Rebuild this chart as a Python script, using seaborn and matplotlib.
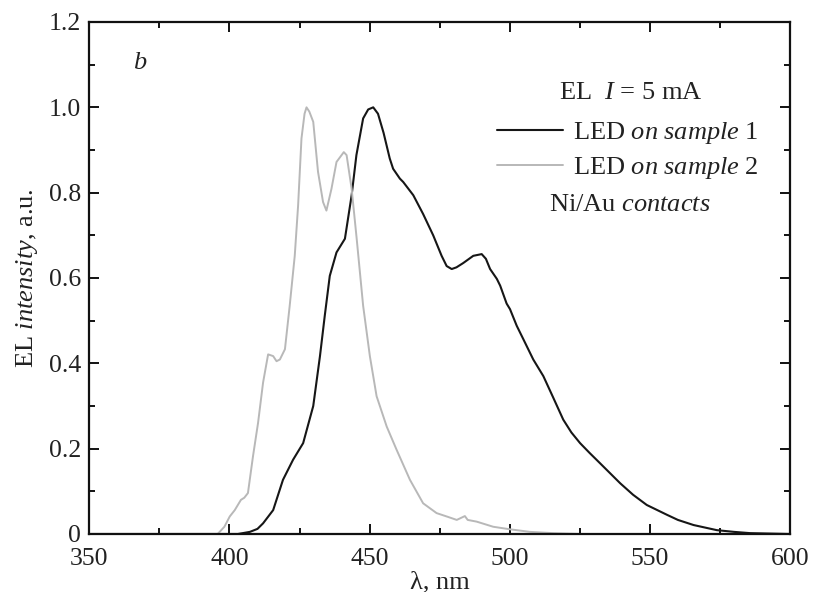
import numpy as np
import pandas as pd
import matplotlib
matplotlib.use("Agg")
import matplotlib.pyplot as plt
import seaborn as sns

# EL spectra

wl_1 = [350, 403, 407.3, 410, 412, 415.6, 419.1, 422.7, 426.3, 429.9, 432.3, 434, 435.8,
        438.2, 441.2, 443.6, 445.3, 447.7, 449.5, 451.3, 453, 455, 457.2, 458.4, 460.8,
        462, 465.6, 469.1, 472.7, 475.7, 477.5, 479.3, 481, 483.4, 487, 490, 491.5, 493,
        495.4, 496.6, 498.9, 500.1, 502.5, 504.9, 508.4, 512, 515.5, 519.1, 522, 525.1,
        528.5, 532.2, 539.4, 544, 548.9, 556.1, 560, 565.6, 573.9, 580, 585.8, 600]
int_1 = [0, 0, 0.005, 0.012, 0.025, 0.056, 0.127, 0.174, 0.213, 0.3, 0.417, 0.511, 0.605,
         0.66, 0.692, 0.794, 0.888, 0.974, 0.995, 1.0, 0.985, 0.94, 0.88, 0.856, 0.833,
         0.825, 0.794, 0.75, 0.70, 0.652, 0.628, 0.621, 0.625, 0.635, 0.652, 0.656, 0.645, 0.621,
         0.598, 0.582, 0.54, 0.527, 0.488, 0.456, 0.409, 0.37, 0.32, 0.268, 0.238, 0.213,
         0.19, 0.166, 0.119, 0.092, 0.068, 0.045, 0.033, 0.021, 0.009, 0.005, 0.002, 0]

wl_2 = [350, 395.8, 398.2, 400.1, 401.9, 404.1, 405.3, 406.6, 408.4, 410.2, 412, 413.8,
        415.6, 416.8, 418, 419.8, 421.5, 423.3, 424.5, 425.7, 426.8, 427.5, 428.5, 429.9,
        431.6, 433.4, 434.6, 436.4, 438.2, 440.8, 441.8, 443.6, 445.4, 447.7, 450.1, 452.5,
        456.1, 459.6, 464.4, 469.1, 473.9, 478, 481.1, 484, 485, 488.2, 494.1, 500.1,
        507.2, 515.5, 525, 600]
int_2 = [0, 0, 0.017, 0.041, 0.056, 0.08, 0.085, 0.096, 0.182, 0.26, 0.355, 0.421,
         0.417, 0.405, 0.409, 0.433, 0.535, 0.652, 0.77, 0.927, 0.985, 1.0, 0.99, 0.966,
         0.849, 0.778, 0.758, 0.809, 0.872, 0.895, 0.888, 0.809, 0.692, 0.535, 0.417, 0.323,
         0.252, 0.198, 0.127, 0.072, 0.049, 0.04, 0.033, 0.042, 0.033, 0.029, 0.017, 0.011,
         0.005, 0.002, 0, 0]

x_ticks = [350, 400, 450, 500, 550, 600]
y_ticks = [0, 0.2, 0.4, 0.6, 0.8, 1.0, 1.2]
y_tick_labels = ["0", "0.2", "0.4", "0.6", "0.8", "1.0", "1.2"]

sns.set_theme(style="ticks")
plt.rcParams["font.family"] = ["Liberation Serif", "DejaVu Serif"]
plt.rcParams["mathtext.fontset"] = "custom"
plt.rcParams["mathtext.rm"] = "Liberation Serif"
plt.rcParams["mathtext.it"] = "Liberation Serif:italic"

FS = 19
fig = plt.figure(figsize=(8.13, 5.92), dpi=100)
ax = fig.add_axes([89.3 / 813, 58 / 592, 700.7 / 813, 512 / 592])

sns.lineplot(x=wl_1, y=int_1, ax=ax, color="#161616", lw=1.5,
             label=r"LED $\mathit{on\ sample}$ 1")
sns.lineplot(x=wl_2, y=int_2, ax=ax, color="#b8b8b8", lw=1.4,
             label=r"LED $\mathit{on\ sample}$ 2")

ax.set_xlim(350, 600)
ax.set_ylim(0, 1.2)
ax.set_xticks(x_ticks)
ax.set_yticks(y_ticks)
ax.set_yticklabels(y_tick_labels)
ax.set_xticks(np.arange(375, 600, 50), minor=True)
ax.set_yticks(np.arange(0.1, 1.2, 0.2), minor=True)

ax.tick_params(which="both", direction="in", top=True, right=True, labelsize=18.5,
               width=1.4, color="#111111", labelcolor="#222222")
ax.tick_params(which="major", length=7)
ax.tick_params(axis="y", which="major", pad=6)
ax.tick_params(axis="x", which="major", pad=10)
ax.tick_params(which="minor", length=4)
for sp in ax.spines.values():
    sp.set_linewidth(1.6)
    sp.set_color("#111111")

ax.set_xlabel(r"λ, nm", fontsize=FS, color="#222222", labelpad=1)
ax.set_ylabel(r"EL $\mathit{intensity}$, a.u.", fontsize=FS, color="#222222", labelpad=6)

ax.text(0.072, 0.92, r"$\mathit{b}$", transform=ax.transAxes, fontsize=FS,
        ha="center", va="center", color="#222222")
ax.text(0.772, 0.861, r"EL  $\mathit{I}$ = 5 mA", transform=ax.transAxes, fontsize=FS,
        ha="center", va="center", color="#222222")
ax.text(0.772, 0.643, r"Ni/Au $\mathit{contacts}$", transform=ax.transAxes, fontsize=FS,
        ha="center", va="center", color="#222222")

leg = ax.legend(loc="center left", bbox_to_anchor=(0.582, 0.749), frameon=False,
                fontsize=FS, handlelength=2.5, handletextpad=0.38, labelspacing=0.35,
                borderpad=0, borderaxespad=0)
for t in leg.get_texts():
    t.set_color("#222222")

fig.savefig("out.png", dpi=100)
